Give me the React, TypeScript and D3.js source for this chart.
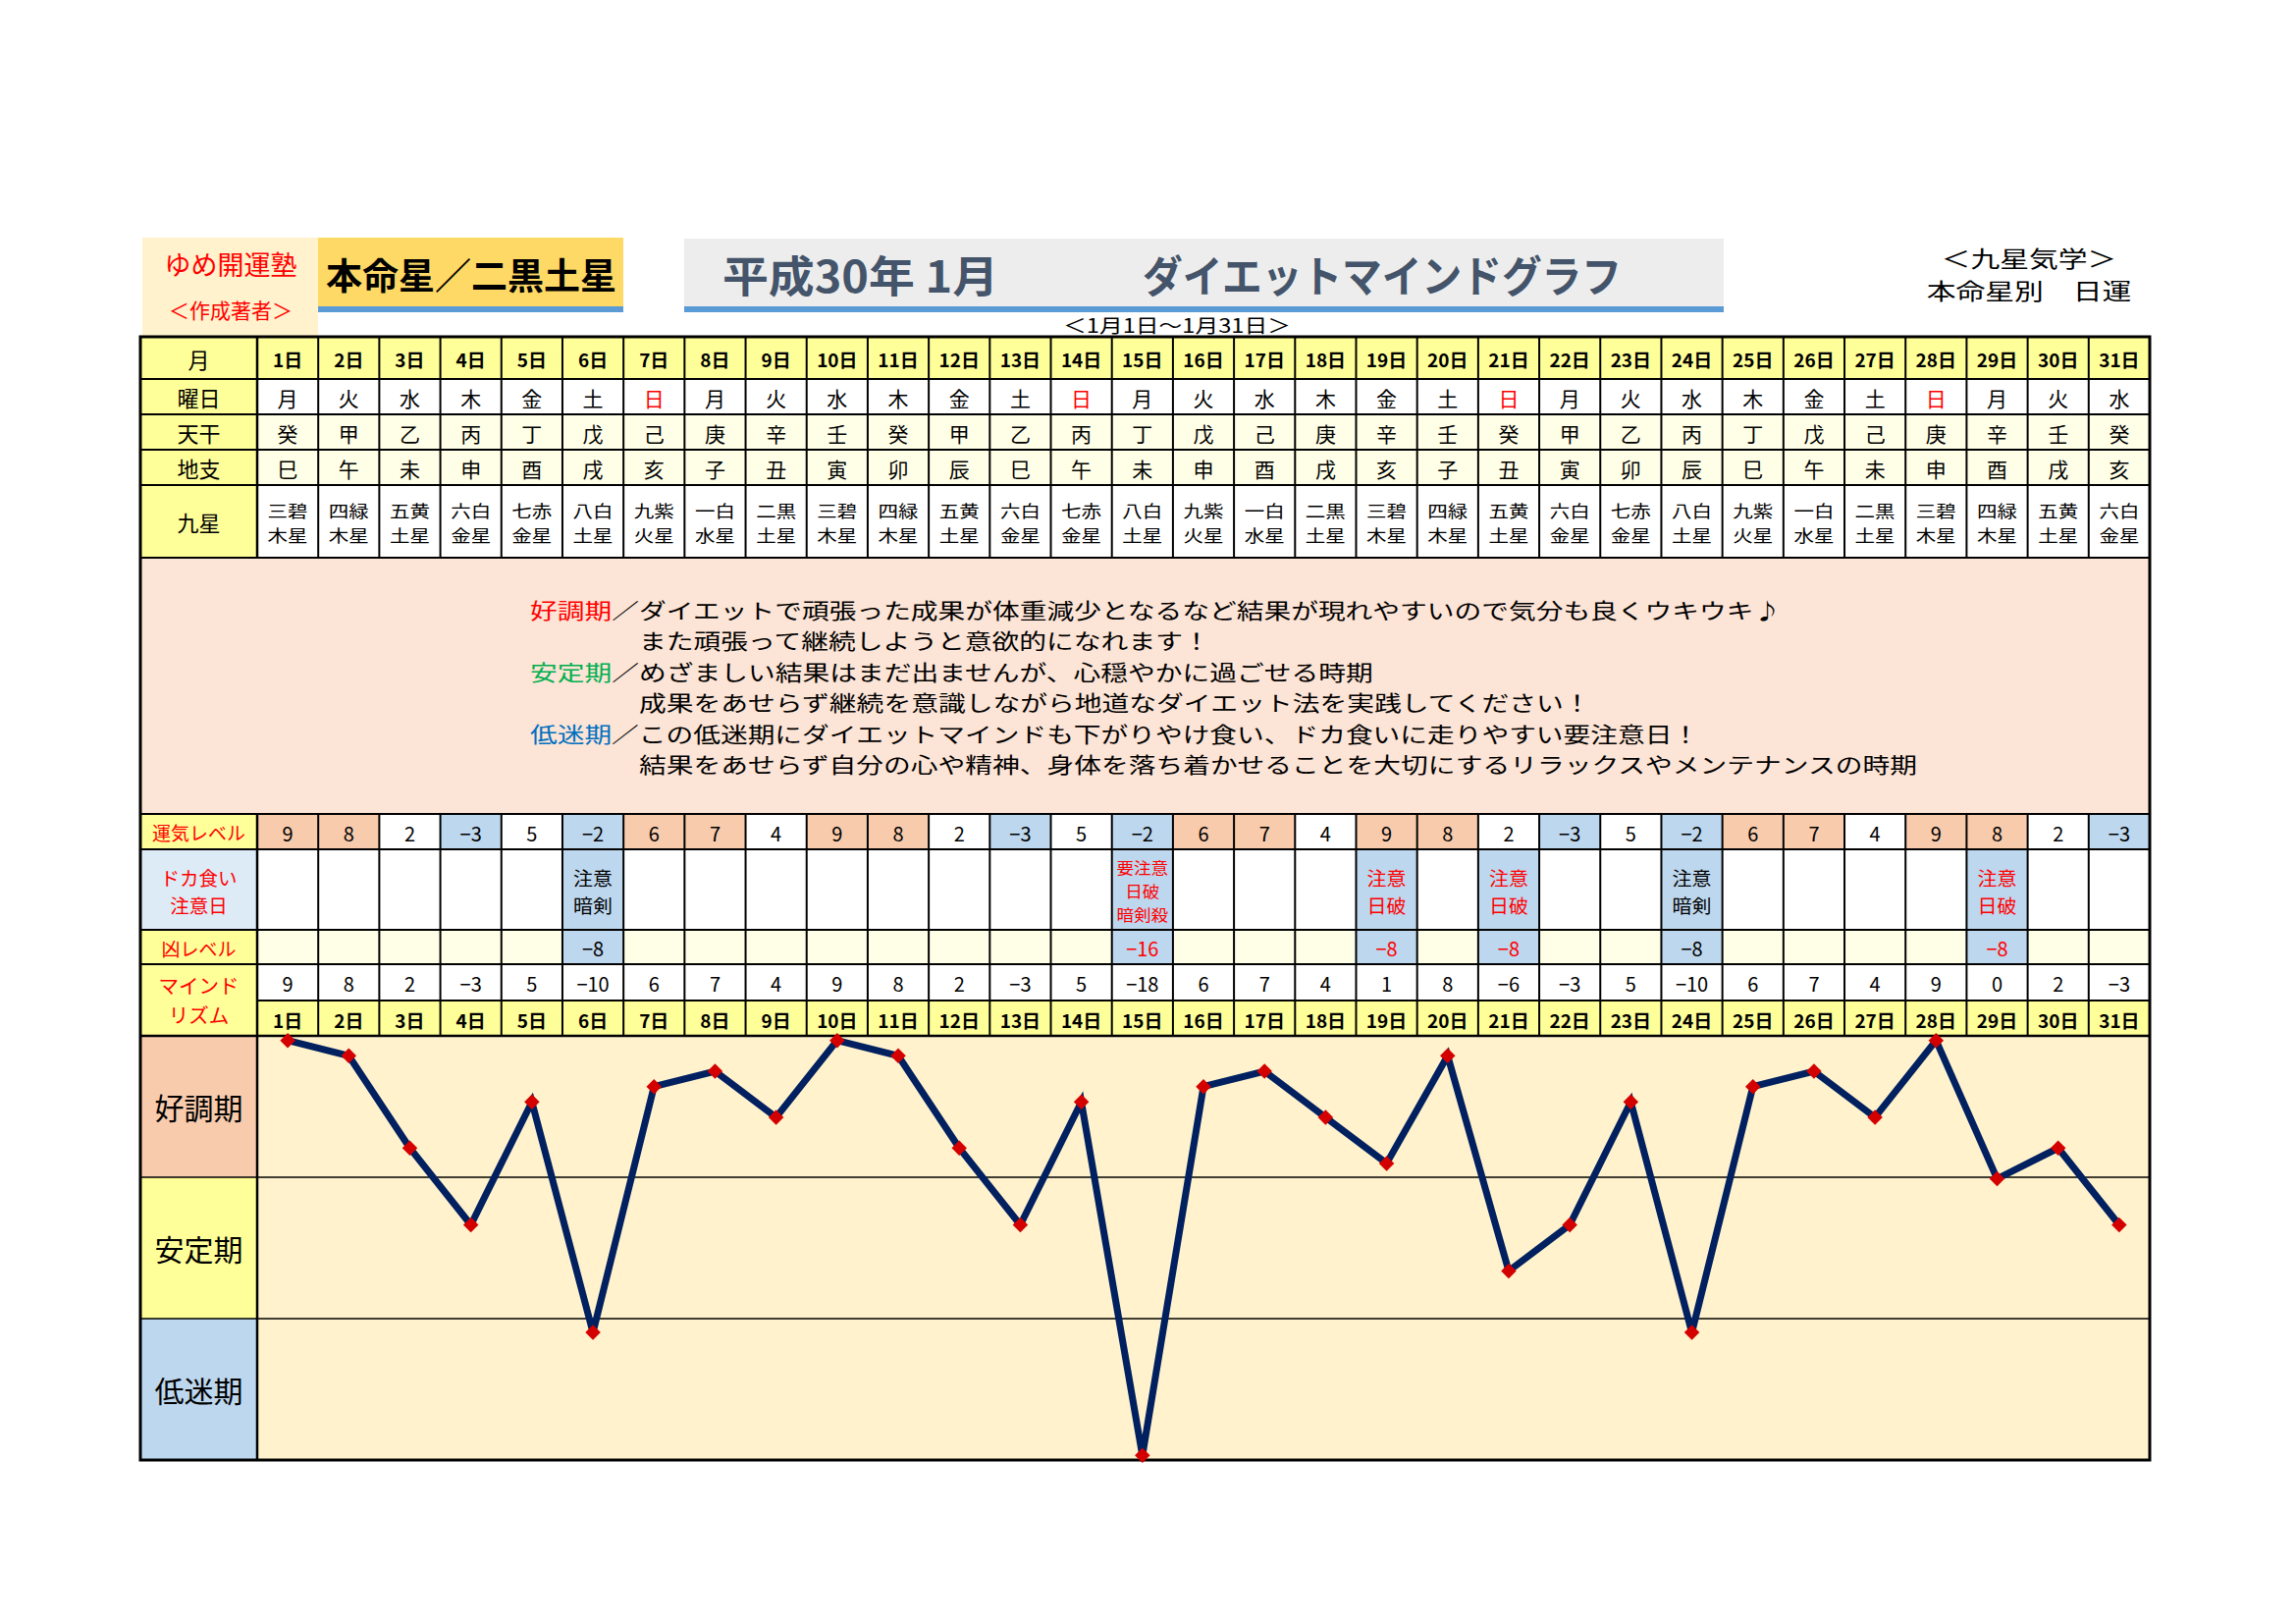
import React from "react";
import * as d3 from "d3";

// ---------- data ----------
const days = ["1日","2日","3日","4日","5日","6日","7日","8日","9日","10日","11日","12日","13日","14日","15日","16日","17日","18日","19日","20日","21日","22日","23日","24日","25日","26日","27日","28日","29日","30日","31日"];
const weekdays = ["月","火","水","木","金","土","日","月","火","水","木","金","土","日","月","火","水","木","金","土","日","月","火","水","木","金","土","日","月","火","水"];
const tenkan = ["癸","甲","乙","丙","丁","戊","己","庚","辛","壬","癸","甲","乙","丙","丁","戊","己","庚","辛","壬","癸","甲","乙","丙","丁","戊","己","庚","辛","壬","癸"];
const chishi = ["巳","午","未","申","酉","戌","亥","子","丑","寅","卯","辰","巳","午","未","申","酉","戌","亥","子","丑","寅","卯","辰","巳","午","未","申","酉","戌","亥"];
const kyusei = ["三碧木星","四緑木星","五黄土星","六白金星","七赤金星","八白土星","九紫火星","一白水星","二黒土星","三碧木星","四緑木星","五黄土星","六白金星","七赤金星","八白土星","九紫火星","一白水星","二黒土星","三碧木星","四緑木星","五黄土星","六白金星","七赤金星","八白土星","九紫火星","一白水星","二黒土星","三碧木星","四緑木星","五黄土星","六白金星"];
const unkiLevel = [9,8,2,-3,5,-2,6,7,4,9,8,2,-3,5,-2,6,7,4,9,8,2,-3,5,-2,6,7,4,9,8,2,-3];
const dokaNotes = ["","","","","","注意\n暗剣","","","","","","","","","要注意\n日破\n暗剣殺","","","","注意\n日破","","注意\n日破","","","注意\n暗剣","","","","","注意\n日破","",""];
const kyoLevel: (number | null)[] = [null,null,null,null,null,-8,null,null,null,null,null,null,null,null,-16,null,null,null,-8,null,-8,null,null,-8,null,null,null,null,-8,null,null];
const mindRhythm = [9,8,2,-3,5,-10,6,7,4,9,8,2,-3,5,-18,6,7,4,1,8,-6,-3,5,-10,6,7,4,9,0,2,-3];
const phaseLabels = ["好調期","安定期","低迷期"];
const yDomain = [-18.3, 9.3];
const descLines: { head: string; body: string }[] = [
  { head: "好調期", body: "／ダイエットで頑張った成果が体重減少となるなど結果が現れやすいので気分も良くウキウキ♪" },
  { head: "", body: "また頑張って継続しようと意欲的になれます！" },
  { head: "安定期", body: "／めざましい結果はまだ出ませんが、心穏やかに過ごせる時期" },
  { head: "", body: "成果をあせらず継続を意識しながら地道なダイエット法を実践してください！" },
  { head: "低迷期", body: "／この低迷期にダイエットマインドも下がりやけ食い、ドカ食いに走りやすい要注意日！" },
  { head: "", body: "結果をあせらず自分の心や精神、身体を落ち着かせることを大切にするリラックスやメンテナンスの時期" },
];

// ---------- layout ----------
const W = 2339, H = 1654;
const FONT = "'Noto Sans CJK JP', 'Noto Sans', sans-serif";
const XT = 143, XL = 262, XR = 2190;
const LX = (XT + XL) / 2;
const R = {
  tsuki: [343, 386], yobi: [386, 422], ten: [422, 458], chi: [458, 494], kyu: [494, 568],
  desc: [568, 829], unki: [829, 865], doka: [865, 947], kyo: [947, 982], mind: [982, 1019],
  day: [1019, 1055], chart: [1055, 1487],
};
const RED = "#FF0000";
const YELLOW = "#FFFF99";
const IVORY = "#FFFFE8";
const SALMON = "#F8CBAD";
const BLUE = "#BDD7EE";
const fmt = d3.format("d");
const nChars = (s: string) => Array.from(s).length;

// one text element per line, stretched to a target width so glyphs keep the reference's width
function Lines(props: { x: number; y0: number; lines: string[]; step: number; size: number; fill?: string; charW?: number; weight?: number }) {
  const { x, y0, lines, step, size, fill, charW, weight } = props;
  return (
    <g>
      {lines.map((l, j) => (
        <text key={j} x={x} y={y0 + j * step} textAnchor="middle" dominantBaseline="central" fontSize={size}
          fontWeight={weight || 400} fill={fill || "#000"}
          textLength={charW ? charW * nChars(l) : undefined} lengthAdjust={charW ? "spacingAndGlyphs" : undefined}>{l}</text>
      ))}
    </g>
  );
}

export default function App() {
  const x = d3.scaleBand<string>().domain(days).range([XL, XR]).padding(0);
  const bw = x.bandwidth();
  const cx = (i: number) => (x(days[i]) as number) + bw / 2;
  const y = d3.scaleLinear().domain(yDomain).range([R.chart[1], R.chart[0]]);
  const phase = d3.scaleBand<string>().domain(phaseLabels).range([R.chart[0], R.chart[1]]);
  const line = d3.line<number>().x((_, i) => cx(i)).y((d) => y(d));
  const diamond = d3.symbol(d3.symbolSquare, 120)() as string;
  const phaseFill = [SALMON, YELLOW, BLUE];

  const cells = (row: number[], fill: (i: number) => string) =>
    days.map((d, i) => (
      <rect key={"c" + row[0] + d} x={x(d)} y={row[0]} width={bw} height={row[1] - row[0]} fill={fill(i)} />
    ));

  const centerText = (row: number[], vals: string[], opts: { size: number; weight?: number; color?: (i: number) => string }) =>
    vals.map((v, i) => (
      <text key={"t" + row[0] + i} x={cx(i)} y={(row[0] + row[1]) / 2 + 1} textAnchor="middle" dominantBaseline="central"
        fontSize={opts.size} fontWeight={opts.weight || 400} fill={opts.color ? opts.color(i) : "#000"}>{v}</text>
    ));

  const hLines = [R.tsuki[1], R.yobi[1], R.ten[1], R.chi[1], R.kyu[1], R.desc[1], R.unki[1], R.doka[1], R.kyo[1]];
  const colSegs = [
    [R.tsuki[0], R.desc[0]],
    [R.desc[1], R.chart[0]],
  ];
  const descPitch = 31.4;
  const descCharW = 27.7;

  return (
    <div>
      <style>{`body{margin:0;background:#fff}`}</style>
      <svg width={W} height={H} style={{ display: "block" }} fontFamily={FONT}>
        <rect x={0} y={0} width={W} height={H} fill="#fff" />

        {/* header boxes */}
        <rect x={145} y={242} width={179} height={101} fill="#FFF2CC" />
        <Lines x={235} y0={268} lines={["ゆめ開運塾"]} step={0} size={27} fill={RED} />
        <Lines x={235} y0={315} lines={["＜作成著者＞"]} step={0} size={21} fill={RED} />

        <rect x={324} y={242} width={311} height={70} fill="#FFD966" />
        <rect x={324} y={312} width={311} height={6} fill="#5B9BD5" />
        <text x={480} y={279} textAnchor="middle" dominantBaseline="central" fontSize={37} fontWeight={700} fill="#000">本命星／二黒土星</text>

        <rect x={697} y={243} width={1059} height={69} fill="#EDEDED" />
        <rect x={697} y={312} width={1059} height={6} fill="#5B9BD5" />
        <text x={736} y={279} dominantBaseline="central" fontSize={44} fontWeight={700} fill="#44546A" textLength={281} lengthAdjust="spacingAndGlyphs">平成30年 1月</text>
        <text x={1164} y={279} dominantBaseline="central" fontSize={44} fontWeight={700} fill="#44546A" textLength={488} lengthAdjust="spacingAndGlyphs">ダイエットマインドグラフ</text>
        <text x={1199} y={330} textAnchor="middle" dominantBaseline="central" fontSize={19.5} fill="#000" textLength={232} lengthAdjust="spacingAndGlyphs">＜1月1日～1月31日＞</text>

        <Lines x={2067} y0={262} lines={["＜九星気学＞", "本命星別　日運"]} step={33} size={22.5} charW={29.8} />

        {/* label column fills */}
        <rect x={XT} y={R.tsuki[0]} width={XL - XT} height={R.kyu[1] - R.tsuki[0]} fill={YELLOW} />
        <rect x={XT} y={R.unki[0]} width={XL - XT} height={R.unki[1] - R.unki[0]} fill={YELLOW} />
        <rect x={XT} y={R.doka[0]} width={XL - XT} height={R.doka[1] - R.doka[0]} fill="#DDEBF7" />
        <rect x={XT} y={R.kyo[0]} width={XL - XT} height={R.day[1] - R.kyo[0]} fill={YELLOW} />

        {/* table rows */}
        {cells(R.tsuki, () => YELLOW)}
        {cells(R.yobi, () => "#fff")}
        {cells(R.ten, () => IVORY)}
        {cells(R.chi, () => IVORY)}
        {cells(R.kyu, () => "#fff")}
        <rect x={XT} y={R.desc[0]} width={XR - XT} height={R.desc[1] - R.desc[0]} fill="#FCE4D6" />
        {cells(R.unki, (i) => (unkiLevel[i] >= 6 ? SALMON : unkiLevel[i] < 0 ? BLUE : "#fff"))}
        {cells(R.doka, (i) => (dokaNotes[i] ? BLUE : "#fff"))}
        {cells(R.kyo, (i) => (kyoLevel[i] !== null ? BLUE : IVORY))}
        {cells(R.mind, () => "#fff")}
        {cells(R.day, () => YELLOW)}

        {/* chart area */}
        <rect x={XL} y={R.chart[0]} width={XR - XL} height={R.chart[1] - R.chart[0]} fill="#FFF2CC" />
        {phaseLabels.map((p, i) => (
          <g key={p}>
            <rect x={XT} y={phase(p)} width={XL - XT} height={phase.bandwidth()} fill={phaseFill[i]} />
            <text x={LX} y={(phase(p) as number) + phase.bandwidth() / 2} textAnchor="middle" dominantBaseline="central" fontSize={30} fill="#000">{p}</text>
            {i > 0 && <line x1={XT} x2={XR} y1={phase(p)} y2={phase(p)} stroke="#000" strokeWidth={1.6} />}
          </g>
        ))}

        {/* grid lines */}
        {hLines.map((yy) => (
          <line key={"h" + yy} x1={XT} x2={XR} y1={yy} y2={yy} stroke="#000" strokeWidth={2} />
        ))}
        <line x1={XL} x2={XR} y1={R.mind[1]} y2={R.mind[1]} stroke="#000" strokeWidth={2} />
        <line x1={XT} x2={XR} y1={R.chart[0]} y2={R.chart[0]} stroke="#000" strokeWidth={2.5} />
        {colSegs.map((s, k) => (
          <g key={"cs" + k}>
            <line x1={XL} x2={XL} y1={s[0]} y2={s[1]} stroke="#000" strokeWidth={2.5} />
            {days.slice(1).map((d) => (
              <line key={d} x1={x(d)} x2={x(d)} y1={s[0]} y2={s[1]} stroke="#000" strokeWidth={2} />
            ))}
          </g>
        ))}
        <line x1={XL} x2={XL} y1={R.chart[0]} y2={R.chart[1]} stroke="#000" strokeWidth={2.5} />
        <rect x={XT} y={R.tsuki[0]} width={XR - XT} height={R.chart[1] - R.tsuki[0]} fill="none" stroke="#000" strokeWidth={3} />

        {/* label texts */}
        <g textAnchor="middle" dominantBaseline="central">
          <text x={LX} y={365} fontSize={22}>月</text>
          <text x={LX} y={404} fontSize={22}>曜日</text>
          <text x={LX} y={440} fontSize={22}>天干</text>
          <text x={LX} y={476} fontSize={22}>地支</text>
          <text x={LX} y={531} fontSize={22}>九星</text>
          <text x={LX} y={847} fontSize={19} fill={RED}>運気レベル</text>
          <text x={LX} y={965} fontSize={19} fill={RED}>凶レベル</text>
        </g>
        <Lines x={LX} y0={893} lines={["ドカ食い", "注意日"]} step={28.5} size={19.5} fill={RED} charW={19.5} />
        <Lines x={LX} y0={1003} lines={["マインド", "リズム"]} step={30} size={20.5} fill={RED} charW={20.5} />

        {/* row values */}
        {centerText(R.tsuki, days, { size: 19, weight: 700 })}
        {centerText(R.yobi, weekdays, { size: 21, color: (i) => (weekdays[i] === "日" ? RED : "#000") })}
        {centerText(R.ten, tenkan, { size: 21 })}
        {centerText(R.chi, chishi, { size: 21 })}
        {kyusei.map((k, i) => (
          <Lines key={"k" + i} x={cx(i)} y0={519} lines={[k.slice(0, 2), k.slice(2)]} step={25} size={17} charW={20.5} />
        ))}
        {centerText(R.unki, unkiLevel.map((v) => fmt(v)), { size: 20 })}
        {dokaNotes.map((n, i) => {
          if (!n) return null;
          const parts = n.split("\n");
          const red = n.includes("日破");
          const small = parts.length > 2;
          return (
            <Lines key={"d" + i} x={cx(i)} y0={small ? 883 : 893} lines={parts} step={small ? 24 : 28}
              size={small ? 16.4 : 19} fill={red ? RED : "#000"} charW={small ? 17.6 : 20} />
          );
        })}
        {kyoLevel.map((v, i) =>
          v === null ? null : (
            <text key={"kl" + i} x={cx(i)} y={965} textAnchor="middle" dominantBaseline="central" fontSize={20}
              fill={dokaNotes[i].includes("日破") ? RED : "#000"}>{fmt(v)}</text>
          )
        )}
        {centerText(R.mind, mindRhythm.map((v) => fmt(v)), { size: 20 })}
        {centerText(R.day, days, { size: 19, weight: 700 })}

        {/* description */}
        {descLines.map((l, i) => {
          const yy = 620 + i * descPitch;
          const color = l.head === "好調期" ? RED : l.head === "安定期" ? "#00B050" : "#0070C0";
          const full = l.head + l.body;
          return (
            <text key={"dl" + i} x={l.head ? 540 : 651} y={yy} dominantBaseline="central" fontSize={21.5} fill="#000"
              textLength={nChars(full) * descCharW} lengthAdjust="spacingAndGlyphs">
              {l.head && <tspan fill={color}>{l.head}</tspan>}
              <tspan>{l.body}</tspan>
            </text>
          );
        })}

        {/* mind rhythm line */}
        <path d={line(mindRhythm) as string} fill="none" stroke="#002060" strokeWidth={7} strokeLinejoin="miter" />
        {mindRhythm.map((v, i) => (
          <path key={"m" + i} d={diamond} transform={`translate(${cx(i)},${y(v)}) rotate(45)`} fill="#D40000" />
        ))}
      </svg>
    </div>
  );
}
